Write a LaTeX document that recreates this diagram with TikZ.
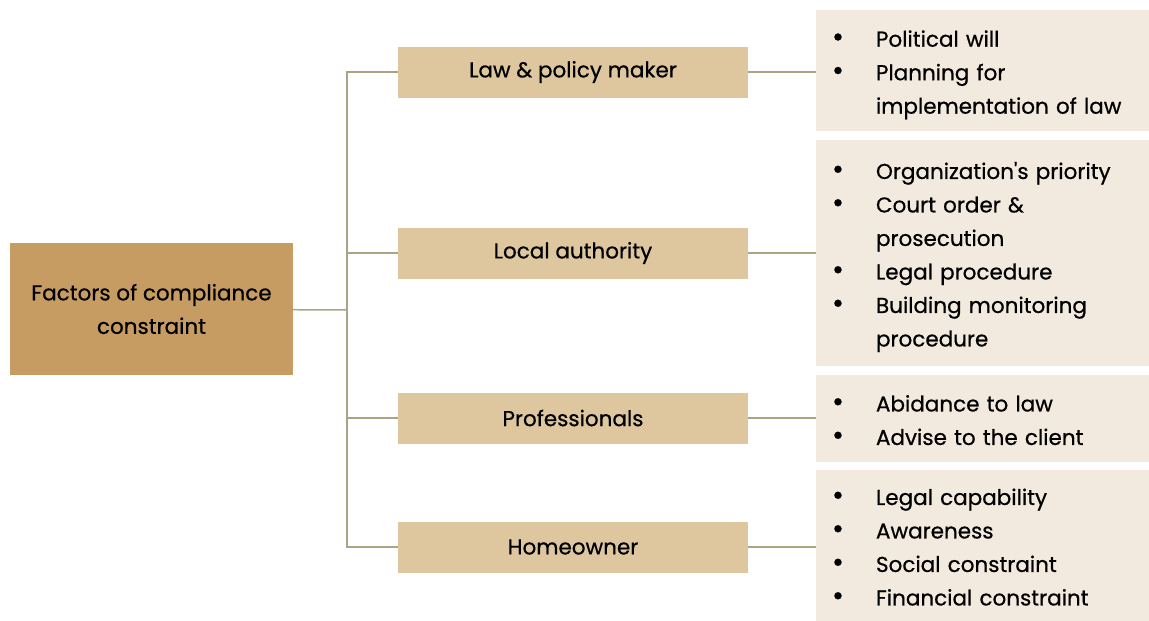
\documentclass[tikz,border=0pt]{standalone}
\usepackage{fontspec}
\newfontfamily\diagfont{Poppins}[FakeBold=0.6]
\usetikzlibrary{positioning}
\definecolor{rootfill}{RGB}{198,156,98}
\definecolor{midfill}{RGB}{222,198,159}
\definecolor{leaffill}{RGB}{243,234,223}
\definecolor{linkcol}{RGB}{168,164,132}
\newcommand{\itm}{\scalebox{1.35}{\textbullet}}
\newcommand{\bullets}[1]{\raisebox{-3pt}[\height][\depth]{\begin{tabular}{@{}p{44pt}@{}l@{}}#1\end{tabular}}}

\begin{document}
\begin{tikzpicture}[x=1pt, y=-1pt,
    every node/.style={font=\diagfont\fontsize{21.5}{33.5}\selectfont, text=black, inner sep=0pt},
    root/.style={fill=rootfill, minimum width=283, minimum height=132, align=center},
    mid/.style={fill=midfill, minimum width=350, minimum height=51},
    leaf/.style={fill=leaffill, minimum width=333, text width=301, inner xsep=16, align=left},
    link/.style={draw=linkcol, line width=1.5pt}]
  \useasboundingbox (0,0) rectangle (1149,621);

  \node (0) [root] at (151.5,309) {Factors of compliance\\constraint};

  \node (1) [mid] at (573,72) {Law \& policy maker};
  \node (2) [mid] at (573,253) {Local authority};
  \node (3) [mid] at (573,418) {Professionals};
  \node (4) [mid] at (573,547) {Homeowner};

  \node (11) [leaf, minimum height=121] at (982.5,70.5) {\bullets{
    \itm & Political will\\ \itm & Planning for\\ & implementation of law}};
  \node (21) [leaf, minimum height=226] at (982.5,253) {\bullets{
    \itm & Organization's priority\\ \itm & Court order \&\\ & prosecution\\
    \itm & Legal procedure\\ \itm & Building monitoring\\ & procedure}};
  \node (31) [leaf, minimum height=87] at (982.5,418.5) {\bullets{
    \itm & Abidance to law\\ \itm & Advise to the client}};
  \node (41) [leaf, minimum height=151] at (982.5,545.5) {\bullets{
    \itm & Legal capability\\ \itm & Awareness\\ \itm & Social constraint\\
    \itm & Financial constraint}};

  \coordinate (t) at (347,310);

  \path [link]
  (0) edge (t)
  (t) edge [to path={|- (\tikztotarget)}] (1.west)
  (t) edge [to path={|- (\tikztotarget)}] (2.west)
  (t) edge [to path={|- (\tikztotarget)}] (3.west)
  (t) edge [to path={|- (\tikztotarget)}] (4.west)
  (1) edge (1.east -| 11.west)
  (2) edge (2.east -| 21.west)
  (3) edge (3.east -| 31.west)
  (4) edge (4.east -| 41.west);
\end{tikzpicture}
\end{document}
